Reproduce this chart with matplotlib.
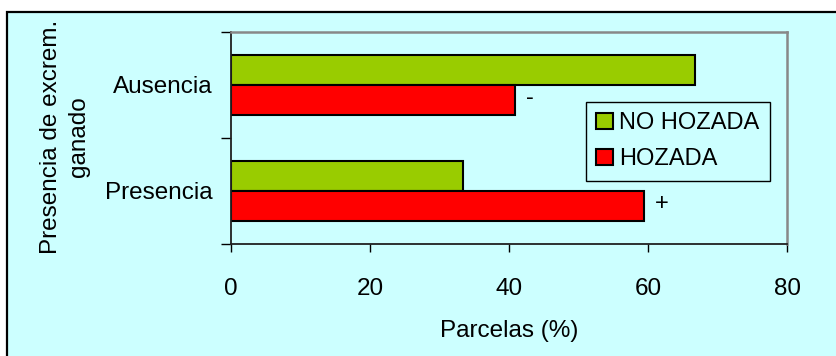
import matplotlib
matplotlib.use("Agg")
import matplotlib.pyplot as plt
from matplotlib.patches import Rectangle
import numpy as np

plt.rcParams["font.family"] = ["Liberation Sans", "DejaVu Sans"]

categories = ["Presencia", "Ausencia"]
no_hozada = [33.3, 66.7]
hozada = [59.4, 40.8]
signs = ["+", "-"]

BG = "#CCFFFF"
GREEN = "#99CC00"
RED = "#FF0000"

fig = plt.figure(figsize=(8.37, 3.56), dpi=100)
fig.patch.set_facecolor("white")
# chart-area frame, cut off at the right and bottom
fig.patches.append(Rectangle((7 / 837, -0.1), 1.2, (356 - 12) / 356 + 0.1,
                             transform=fig.transFigure, facecolor=BG,
                             edgecolor="black", lw=1.6, zorder=-1))

ax = fig.add_axes([231 / 837, 1 - 243.7 / 356, 556.5 / 837, 211.7 / 356])
ax.set_facecolor(BG)

y = np.arange(len(categories))
h = 0.283
ax.barh(y + h / 2, no_hozada, h, color=GREEN, edgecolor="black", lw=1.5, label="NO HOZADA")
ax.barh(y - h / 2, hozada, h, color=RED, edgecolor="black", lw=1.5, label="HOZADA")
for yi, v, s in zip(y, hozada, signs):
    ax.text(v + 1.6, yi - h / 2 + 0.02, s, fontsize=17, ha="left", va="center")

ax.set_xlim(0, 80)
ax.set_ylim(-0.5, 1.5)
ax.set_xticks([0, 20, 40, 60, 80])
ax.tick_params(axis="x", length=6, width=1, pad=19, labelsize=17.5)
ax.set_yticks([-0.5, 0.5, 1.5])
ax.set_yticklabels([])
ax.set_yticks(y, minor=True)
ax.set_yticklabels(categories, minor=True)
ax.tick_params(axis="y", which="major", length=7, width=1)
ax.tick_params(axis="y", which="minor", length=0, pad=13, labelsize=17.5)

for s in ["left", "bottom"]:
    ax.spines[s].set_color("#202020")
    ax.spines[s].set_linewidth(1.3)
for s in ["top", "right"]:
    ax.spines[s].set_color("#888888")
    ax.spines[s].set_linewidth(1.8)

ax.set_xlabel("Parcelas (%)", fontsize=17.5, labelpad=14)
fig.text(65 / 837, 1 - 137 / 356, "Presencia de excrem.\nganado", rotation=90,
         fontsize=17.5, ha="center", va="center", linespacing=1.35)

leg = ax.legend(loc="upper left", bbox_to_anchor=(585.7 / 837, 1 - 101.7 / 356),
                bbox_transform=fig.transFigure, fontsize=17, frameon=True,
                fancybox=False, facecolor=BG, edgecolor="black", framealpha=1,
                handlelength=0.7, handleheight=0.7, handletextpad=0.25,
                borderpad=0.45, labelspacing=0.6, borderaxespad=0)
leg.get_frame().set_linewidth(1.0)

fig.savefig("out.png", dpi=100)
